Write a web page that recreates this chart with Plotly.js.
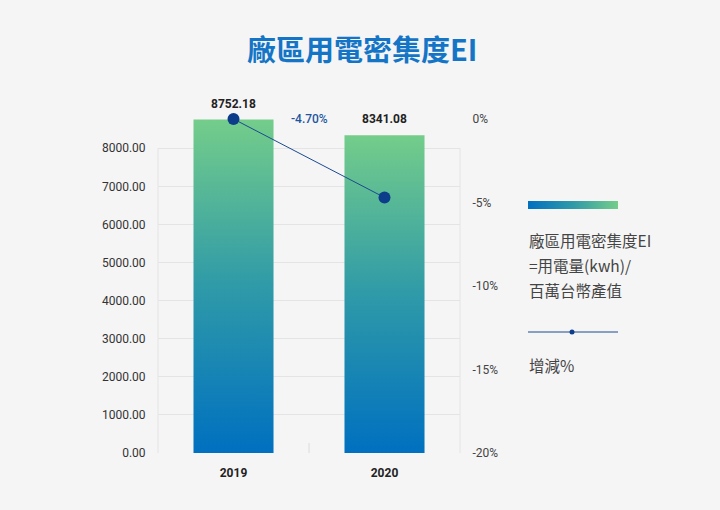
<!DOCTYPE html>
<html>
<head>
<meta charset="utf-8">
<script src="https://cdn.plot.ly/plotly-3.0.1.min.js"></script>
<style>
  html, body { margin: 0; padding: 0; background: #f5f5f5; }
  #chart { width: 720px; height: 510px; }
</style>
</head>
<body>
<div id="chart"></div>
<script>
// ── 廠區用電密集度 EI ── datos del gráfico ───────────────────────────────

const years      = ['2019', '2020'];
const eiValues   = [8752.18, 8341.08];
const changePct  = [0, -4.70];
const leftTicks  = [0, 1000, 2000, 3000, 4000, 5000, 6000, 7000, 8000];
const rightTicks = [0, -5, -10, -15, -20];
const rightTickText = ['0%', '-5%', '-10%', '-15%', '-20%'];
const legendLines = ['廠區用電密集度EI', '=用電量(kwh)/', '百萬台幣產值'];

const FONT = 'Roboto, "Noto Sans CJK TC", "Noto Sans", sans-serif';
const CJK  = '"Noto Sans CJK TC", Roboto, sans-serif';

// pixel helpers for the hand-placed legend (plot area 158..460 x 88..453)
const L = 158, R = 460, T = 88, B = 453;
const px = v => (v - L) / (R - L);
const py = v => (B - v) / (B - T);

const gd = document.getElementById('chart');

const bars = {
    type: 'bar',
    x: years,
    y: eiValues,
    marker: { color: '#2f9aa8', line: { width: 0 } },
    hoverinfo: 'none',
};

const line = {
    type: 'scatter',
    mode: 'lines+markers',
    x: years,
    y: changePct,
    yaxis: 'y2',
    line: { color: '#1b4a92', width: 1 },
    marker: { color: '#0d3d8a', size: 12 },
    cliponaxis: false,
    hoverinfo: 'none',
};

// etiquetas de valor sobre cada barra (x por índice de categoría)
const valueLabels = years.map((yr, i) => ({
    text: eiValues[i].toFixed(2),
    xref: 'x', x: i, yref: 'y', y: eiValues[i],
    yanchor: 'bottom', yshift: 7,
    showarrow: false,
    font: { family: FONT, size: 12, color: '#222', weight: 700 },
}));

const layout = {
    width: 720,
    height: 510,
    margin: { l: L, r: 720 - R, t: T, b: 510 - B, pad: 0 },
    paper_bgcolor: '#f5f5f5',
    plot_bgcolor: '#f5f5f5',
    showlegend: false,
    bargap: 0.47,
    font: { family: FONT, color: '#333' },
    title: {
        text: '廠區用電密集度EI',
        x: 0.503, xref: 'container', xanchor: 'center',
        y: 1 - 51 / 510, yref: 'container', yanchor: 'middle',
        font: { family: CJK, size: 29, color: '#1475c6', weight: 700 },
    },
    xaxis: {
        type: 'category',
        range: [-0.5, 1.5],
        showgrid: false,
        zeroline: false,
        showline: false,
        ticks: 'outside', ticklen: 9, tickcolor: 'rgba(0,0,0,0)',
        tickfont: { family: FONT, size: 12, color: '#222', weight: 700 },
    },
    yaxis: {
        range: [0, 9580],
        tickvals: leftTicks,
        tickformat: '.2f',
        showgrid: true,
        gridcolor: '#e4e4e4',
        gridwidth: 1,
        zeroline: false,
        showline: false,
        ticks: 'outside', ticklen: 9, tickcolor: 'rgba(0,0,0,0)',
        tickfont: { family: FONT, size: 12, color: '#333' },
    },
    yaxis2: {
        overlaying: 'y',
        side: 'right',
        range: [-20, (119 - T) / ((B - 119) / 20)],
        tickvals: rightTicks,
        ticktext: rightTickText,
        showgrid: false,
        zeroline: false,
        showline: false,
        ticks: 'outside', ticklen: 9, tickcolor: 'rgba(0,0,0,0)',
        tickfont: { family: FONT, size: 12, color: '#444' },
    },
    shapes: [
        // marco del área de trazado
        { type: 'line', xref: 'paper', yref: 'y', x0: 0, x1: 0, y0: 0, y1: 8000,
          line: { color: '#e4e4e4', width: 1 }, layer: 'below' },
        { type: 'line', xref: 'paper', yref: 'y', x0: 1, x1: 1, y0: 0, y1: 8000,
          line: { color: '#e4e4e4', width: 1 }, layer: 'below' },
        { type: 'line', xref: 'paper', yref: 'paper', x0: 0.5, x1: 0.5, y0: 0, y1: 10 / (B - T),
          line: { color: '#dcdcdc', width: 1 }, layer: 'below' },
        // leyenda: barra degradada
        { type: 'rect', xref: 'paper', yref: 'paper',
          x0: px(528), x1: px(618), y0: py(209), y1: py(201),
          fillcolor: '#3aa0a6', line: { width: 0 } },
        // leyenda: línea con punto
        { type: 'line', xref: 'paper', yref: 'paper',
          x0: px(528), x1: px(618), y0: py(332), y1: py(332),
          line: { color: '#1b4a92', width: 1 } },
        { type: 'circle', xref: 'paper', yref: 'paper',
          x0: px(569.5), x1: px(574.5), y0: py(334.5), y1: py(329.5),
          fillcolor: '#0d3d8a', line: { width: 0 } },
    ],
    annotations: [
        ...valueLabels,
        {
            text: `${changePct[1].toFixed(2)}%`,
            xref: 'x', x: 0.5, yref: 'y2', y: changePct[0],
            showarrow: false,
            font: { family: FONT, size: 12, color: '#1f55a0', weight: 500 },
        },
        ...legendLines.map((t, i) => ({
            text: t,
            xref: 'paper', x: px(527), xanchor: 'left',
            yref: 'paper', y: py(240 + i * 25), yanchor: 'middle',
            showarrow: false,
            font: { family: CJK, size: 15.5, color: '#444' },
        })),
        {
            text: '增減%',
            xref: 'paper', x: px(527), xanchor: 'left',
            yref: 'paper', y: py(365), yanchor: 'middle',
            showarrow: false,
            font: { family: CJK, size: 15.5, color: '#444' },
        },
    ],
};

function addGradient(svg, id, stops, horizontal) {
    const ns = 'http://www.w3.org/2000/svg';
    let defs = svg.querySelector('defs');
    if (!defs) { defs = document.createElementNS(ns, 'defs'); svg.prepend(defs); }
    const g = document.createElementNS(ns, 'linearGradient');
    g.setAttribute('id', id);
    g.setAttribute('x1', '0'); g.setAttribute('y1', '0');
    g.setAttribute('x2', horizontal ? '1' : '0'); g.setAttribute('y2', horizontal ? '0' : '1');
    stops.forEach(([off, col]) => {
        const s = document.createElementNS(ns, 'stop');
        s.setAttribute('offset', off);
        s.setAttribute('stop-color', col);
        g.appendChild(s);
    });
    defs.appendChild(g);
}

Plotly.newPlot(gd, [bars, line], layout, { staticPlot: true, displayModeBar: false }).then(() => {
    const svg = gd.querySelector('.main-svg');
    const ramp = [['0%', '#74cd8a'], ['50%', '#2f9aa8'], ['100%', '#0070c0']];
    addGradient(svg, 'eiBarGrad', ramp, false);
    addGradient(svg, 'eiLegGrad', [['0%', '#0070c0'], ['50%', '#2f9aa8'], ['100%', '#74cd8a']], true);

    gd.querySelectorAll('.barlayer .point path').forEach(p => { p.style.fill = 'url(#eiBarGrad)'; });
    const leg = gd.querySelector('.shapelayer path[data-index="3"]');
    if (leg) leg.style.fill = 'url(#eiLegGrad)';
});
</script>
</body>
</html>
